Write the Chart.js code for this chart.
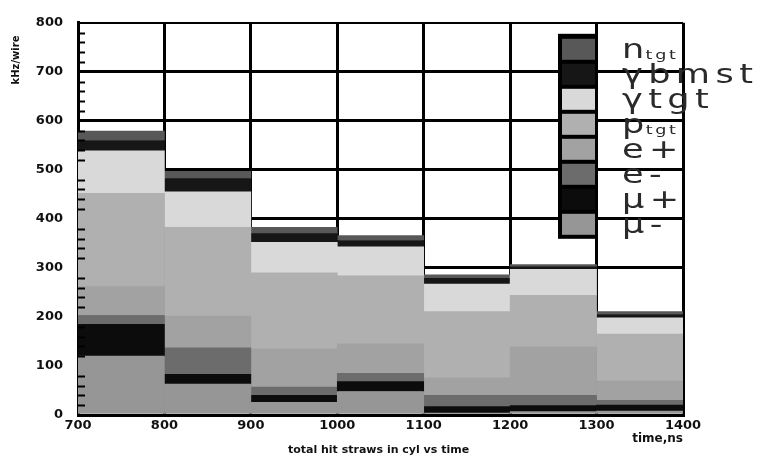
<!DOCTYPE html>
<html>
<head>
<meta charset="utf-8">
<script src="https://cdn.jsdelivr.net/npm/chart.js@4/dist/chart.umd.min.js"></script>
<style>
  html, body { margin: 0; padding: 0; background: #fff; }
  #wrap { width: 760px; height: 458px; }
</style>
</head>
<body>
<div id="wrap"><canvas id="c" width="760" height="458"></canvas></div>
<script>
// Time bins (ns) and axis tick labels
const binEdges = [700, 800, 900, 1000, 1100, 1200, 1300, 1400];
const xTickLabels = ['700', '800', '900', '1000', '1100', '1200', '1300', '1400'];
const yTickLabels = ['0', '100', '200', '300', '400', '500', '600', '700', '800'];

// Stack members, bottom to top
const seriesNames = ['μ-', 'μ+', 'e-', 'e+', 'p_tgt', 'γtgt', 'γbmst', 'n_tgt'];

// Hit counts per bin for each contribution
const muMinus   = [120, 63, 26, 48,   4,   7,  8];
const muPlus    = [ 65, 20, 14, 20,  13,  12, 12];
const eMinus    = [ 18, 54, 17, 17,  23,  21, 10];
const ePlus     = [ 59, 65, 78, 60,  36,  99, 39];
const pTgt      = [190,181,155,139, 135, 105, 96];
const gammaTgt  = [ 87, 72, 62, 59,  56,  53, 33];
const gammaBmst = [ 21, 27, 18, 13,  12,   5,  7];
const nTgt      = [ 19, 15, 13, 10,   7,   5,  6];

const seriesValues = [muMinus, muPlus, eMinus, ePlus, pTgt, gammaTgt, gammaBmst, nTgt];
const seriesColors = ['#969696', '#0c0c0c', '#6c6c6c', '#a2a2a2', '#b0b0b0', '#d9d9d9', '#161616', '#585858'];

const binCenters = binEdges.slice(0, -1).map((e, i) => (e + binEdges[i + 1]) / 2);

const datasets = seriesNames.map((name, k) => ({
  label: name,
  data: seriesValues[k].map((v, i) => ({ x: binCenters[i], y: v })),
  backgroundColor: seriesColors[k],
  borderWidth: 0,
  barPercentage: 1,
  categoryPercentage: 1,
  stack: 'hits'
}));

const FONT = '"DejaVu Sans", "Liberation Sans", sans-serif';
const STRETCH = 1.35;

// Draws a wide legend label such as "n_tgt", with its subscript part
function drawLegendText(ctx, text, x, y) {
  const parts = text.split('_');
  ctx.save();
  ctx.translate(x, y);
  ctx.scale(STRETCH, 1);
  ctx.font = '26px ' + FONT;
  ctx.letterSpacing = '4px';
  ctx.fillText(parts[0], 0, 0);
  if (parts.length > 1) {
    const w = ctx.measureText(parts[0]).width;
    ctx.font = '13px ' + FONT;
    ctx.letterSpacing = '2px';
    ctx.fillText(parts[1], w - 3, 1);
  }
  ctx.restore();
}

const decorations = {
  id: 'decorations',
  beforeDraw(chart) {
    const ctx = chart.ctx;
    ctx.save();
    ctx.fillStyle = '#fff';
    ctx.fillRect(0, 0, chart.width, chart.height);
    ctx.restore();
  },
  afterDatasetsDraw(chart) {
    const { ctx, chartArea } = chart;
    const yScale = chart.scales.y;
    ctx.save();

    // inward minor ticks on the left axis
    ctx.strokeStyle = '#000';
    ctx.lineWidth = 2;
    for (let v = 20; v < 800; v += 20) {
      if (v % 100 === 0) continue;
      const py = Math.round(yScale.getPixelForValue(v)) + 0.5;
      ctx.beginPath();
      ctx.moveTo(chartArea.left, py);
      ctx.lineTo(chartArea.left + 7, py);
      ctx.stroke();
    }

    // legend: swatch column on a black strip, large labels to its right
    const boxLeft = chartArea.right - 125;
    const boxRight = chartArea.right - 86;
    const boxTop = chartArea.top + 11;
    const rowH = 25;
    const n = seriesNames.length;
    ctx.fillStyle = '#000';
    ctx.fillRect(boxLeft, boxTop, boxRight - boxLeft, rowH * n + 5);
    const textX = chartArea.right - 61;
    for (let r = 0; r < n; r++) {
      const k = n - 1 - r;
      const top = boxTop + 5 + r * rowH;
      ctx.fillStyle = seriesColors[k];
      ctx.fillRect(boxLeft + 4, top, boxRight - boxLeft - 6, rowH - 4);
      ctx.fillStyle = '#2a2a2a';
      ctx.textBaseline = 'alphabetic';
      ctx.textAlign = 'left';
      drawLegendText(ctx, seriesNames[k], textX, top + 19);
    }

    // axis titles
    ctx.fillStyle = '#111';
    ctx.font = 'bold 11px ' + FONT;
    ctx.textAlign = 'center';
    ctx.textBaseline = 'middle';
    ctx.fillText('total hit straws in cyl vs time', (chartArea.left + chartArea.right) / 2 - 2, 450);

    ctx.font = 'bold 12px ' + FONT;
    ctx.textAlign = 'right';
    ctx.fillText('time,ns', chartArea.right, 439);

    ctx.translate(16, 60);
    ctx.rotate(-Math.PI / 2);
    ctx.font = 'bold 10px ' + FONT;
    ctx.textAlign = 'center';
    ctx.fillText('kHz/wire', 0, 0);
    ctx.restore();
  }
};

new Chart(document.getElementById('c').getContext('2d'), {
  type: 'bar',
  data: { datasets },
  options: {
    responsive: false,
    animation: false,
    devicePixelRatio: 1,
    layout: { padding: { left: 0, right: 77, top: 12, bottom: 0 } },
    plugins: { legend: { display: false }, tooltip: { enabled: false } },
    scales: {
      x: {
        type: 'linear',
        min: binEdges[0],
        max: binEdges[binEdges.length - 1],
        offset: false,
        stacked: true,
        grid: { offset: false, color: '#000', lineWidth: 3, drawTicks: false },
        border: { display: true, color: '#000', width: 3 },
        ticks: {
          stepSize: 100,
          autoSkip: false,
          maxRotation: 0,
          padding: 3,
          color: '#111',
          font: { family: FONT, size: 13, weight: 'bold' },
          callback: (v) => xTickLabels[binEdges.indexOf(v)]
        },
        afterFit: (s) => { s.height = 43; }
      },
      y: {
        min: 0,
        max: 800,
        stacked: true,
        grid: {
          color: '#000',
          lineWidth: (c) => (c.tick && c.tick.value === 800 ? 2 : 3),
          drawTicks: false
        },
        border: { display: true, color: '#000', width: 3 },
        ticks: {
          stepSize: 100,
          padding: 15,
          color: '#111',
          font: { family: FONT, size: 13, weight: 'bold' },
          callback: (v) => yTickLabels[v / 100]
        },
        afterFit: (s) => { s.width = 78; }
      }
    }
  },
  plugins: [decorations]
});
</script>
</body>
</html>
